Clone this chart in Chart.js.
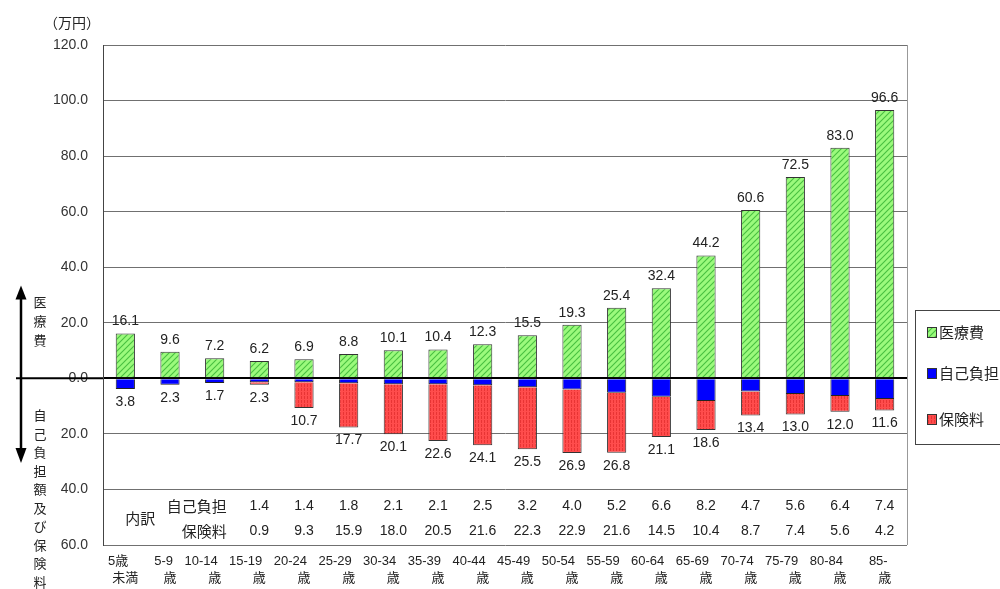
<!DOCTYPE html>
<html><head><meta charset="utf-8">
<script src="https://cdn.jsdelivr.net/npm/chart.js@4"></script>
<style>html,body{margin:0;padding:0;background:#fff}</style>
</head><body>
<canvas id="c" width="1000" height="589"></canvas>
<script>
// ---- data ----
const catLine1 = ["5歳","5-9","10-14","15-19","20-24","25-29","30-34","35-39","40-44","45-49","50-54","55-59","60-64","65-69","70-74","75-79","80-84","85-"];
const catLine2 = ["未満","歳","歳","歳","歳","歳","歳","歳","歳","歳","歳","歳","歳","歳","歳","歳","歳","歳"];
const medical  = [16.1, 9.6, 7.2, 6.2, 6.9, 8.8, 10.1, 10.4, 12.3, 15.5, 19.3, 25.4, 32.4, 44.2, 60.6, 72.5, 83.0, 96.6];
const selfPay  = [3.8, 2.3, 1.7, 1.4, 1.4, 1.8, 2.1, 2.1, 2.5, 3.2, 4.0, 5.2, 6.6, 8.2, 4.7, 5.6, 6.4, 7.4];
const premium  = [0, 0, 0, 0.9, 9.3, 15.9, 18.0, 20.5, 21.6, 22.3, 22.9, 21.6, 14.5, 10.4, 8.7, 7.4, 5.6, 4.2];
const seriesNames = ["医療費", "自己負担", "保険料"];
const tableStart = 3;
const tableRowNames = ["自己負担", "保険料"];

const FAM = "'Liberation Sans', Arial, 'Noto Sans CJK JP', sans-serif";
const JFAM = "'Noto Sans CJK JP', sans-serif";

function makePattern(kind) {
  const c = document.createElement('canvas');
  const g = c.getContext('2d');
  if (kind === 'green') {
    c.width = 6; c.height = 6;
    g.fillStyle = '#9BFA7C'; g.fillRect(0, 0, 6, 6);
    g.strokeStyle = '#48C040'; g.lineWidth = 1.1;
    g.beginPath();
    g.moveTo(-1, 7); g.lineTo(7, -1);
    g.moveTo(-4, 4); g.lineTo(4, -4);
    g.moveTo(2, 10); g.lineTo(10, 2);
    g.stroke();
  } else {
    c.width = 3; c.height = 4;
    g.fillStyle = '#FF4C4C'; g.fillRect(0, 0, 3, 4);
    g.fillStyle = '#E83434'; g.fillRect(1, 0, 1, 3);
  }
  return g.createPattern(c, 'repeat');
}
const greenPat = makePattern('green');
const redPat = makePattern('red');

const annot = {
  id: 'annot',
  afterDatasetsDraw(chart) {
    const ctx = chart.ctx, x = chart.scales.x, y = chart.scales.y, ca = chart.chartArea;
    ctx.save();
    ctx.fillStyle = '#222';
    ctx.textAlign = 'center'; ctx.textBaseline = 'middle';
    ctx.font = '14px ' + FAM;
    medical.forEach((v, i) => {
      const px = x.getPixelForValue(i);
      ctx.fillText(v.toFixed(1), px, y.getPixelForValue(v) - 12);
      const t = selfPay[i] + premium[i];
      ctx.fillText(t.toFixed(1), px, y.getPixelForValue(-t) + 13);
    });
    // table
    const r1 = y.getPixelForValue(-46), r2 = y.getPixelForValue(-55);
    for (let i = tableStart; i < medical.length; i++) {
      const px = x.getPixelForValue(i);
      ctx.fillText(selfPay[i].toFixed(1), px, r1);
      ctx.fillText(premium[i].toFixed(1), px, r2);
    }
    ctx.font = '15px ' + JFAM;
    ctx.fillText('内訳', x.getPixelForValue(0) + 15, y.getPixelForValue(-50.5));
    ctx.textAlign = 'right';
    const rx = x.getPixelForValue(2) + 12;
    ctx.fillText(tableRowNames[0], rx, r1);
    ctx.fillText(tableRowNames[1], rx, r2);
    // x labels
    ctx.font = '13px ' + FAM;
    medical.forEach((v, i) => {
      const px = x.getPixelForValue(i);
      ctx.textAlign = 'right';
      ctx.fillText(catLine1[i], px + 3, ca.bottom + 16);
      ctx.textAlign = 'center';
      ctx.fillText(catLine2[i], px, ca.bottom + 33);
    });
    ctx.restore();
  },
  afterDraw(chart) {
    const ctx = chart.ctx, y = chart.scales.y, ca = chart.chartArea;
    const y0 = y.getPixelForValue(0);
    ctx.save();
    // right border
    ctx.strokeStyle = '#999'; ctx.lineWidth = 1;
    ctx.beginPath(); ctx.moveTo(ca.right + 0.5, ca.top); ctx.lineTo(ca.right + 0.5, ca.bottom); ctx.stroke();
    // zero line extension
    ctx.strokeStyle = '#000'; ctx.lineWidth = 2;
    ctx.beginPath(); ctx.moveTo(16, y0); ctx.lineTo(ca.left, y0); ctx.stroke();
    // arrow
    const ax = 21, top = y.getPixelForValue(33.4), bot = y.getPixelForValue(-30.5);
    ctx.lineWidth = 2.5;
    ctx.beginPath(); ctx.moveTo(ax, top + 8); ctx.lineTo(ax, bot - 8); ctx.stroke();
    ctx.fillStyle = '#000';
    ctx.beginPath(); ctx.moveTo(ax, top); ctx.lineTo(ax - 5.5, top + 14); ctx.lineTo(ax + 5.5, top + 14); ctx.closePath(); ctx.fill();
    ctx.beginPath(); ctx.moveTo(ax, bot); ctx.lineTo(ax - 5.5, bot - 15); ctx.lineTo(ax + 5.5, bot - 15); ctx.closePath(); ctx.fill();
    // vertical side texts
    ctx.fillStyle = '#222'; ctx.font = '13px ' + JFAM; ctx.textAlign = 'center'; ctx.textBaseline = 'middle';
    const upText = '医療費', downText = '自己負担額及び保険料';
    [...upText].forEach((ch, k) => ctx.fillText(ch, 40, y0 - 76 + 19 * k));
    [...downText].forEach((ch, k) => ctx.fillText(ch, 40, y0 + 37 + 18.5 * k));
    // unit
    ctx.font = '14px ' + JFAM;
    ctx.fillText('（万円）', 72, 23);
    // legend
    const lx = 915, ly = 310;
    ctx.strokeStyle = '#444'; ctx.lineWidth = 1;
    ctx.strokeRect(lx + 0.5, ly + 0.5, 120, 134);
    const fills = [greenPat, '#0000FF', redPat];
    const ys = [332, 373, 419];
    ctx.font = '15px ' + JFAM; ctx.textAlign = 'left';
    seriesNames.forEach((n, k) => {
      ctx.fillStyle = fills[k];
      ctx.fillRect(927, ys[k] - 5, 9, 10);
      ctx.strokeStyle = '#333'; ctx.lineWidth = 1;
      ctx.strokeRect(927.5, ys[k] - 4.5, 9, 10);
      ctx.fillStyle = '#222';
      ctx.fillText(n, 939, ys[k]);
    });
    ctx.restore();
  }
};

new Chart(document.getElementById('c'), {
  type: 'bar',
  data: {
    labels: catLine1.map((a, i) => a + catLine2[i]),
    datasets: [
      { label: seriesNames[0], data: medical, backgroundColor: greenPat, borderColor: '#333', borderWidth: 1, barPercentage: 0.43, categoryPercentage: 1 },
      { label: seriesNames[1], data: selfPay.map(v => -v), backgroundColor: '#0000FF', borderColor: '#222', borderWidth: 1, barPercentage: 0.43, categoryPercentage: 1 },
      { label: seriesNames[2], data: premium.map(v => v ? -v : null), backgroundColor: redPat, borderColor: '#333', borderWidth: 1, barPercentage: 0.43, categoryPercentage: 1 }
    ]
  },
  options: {
    responsive: false, animation: false, devicePixelRatio: 1,
    layout: { padding: { left: 0, right: 93, top: 45, bottom: 0 } },
    plugins: { legend: { display: false }, tooltip: { enabled: false } },
    scales: {
      x: { stacked: true, grid: { display: false }, border: { display: false }, ticks: { display: false },
           afterFit(s) { s.height = 44; } },
      y: { stacked: true, min: -60, max: 120,
           afterFit(s) { s.width = 103; },
           ticks: { stepSize: 20, padding: 15, color: '#333', font: { size: 14, family: FAM },
                    callback: v => Math.abs(v).toFixed(1) },
           grid: { drawTicks: false, color: c => c.tick.value === 0 ? '#000' : '#707070',
                   lineWidth: c => c.tick.value === 0 ? 2 : 1 },
           border: { display: true, color: '#444', width: 1 } }
    }
  },
  plugins: [annot]
});
</script>
</body></html>
